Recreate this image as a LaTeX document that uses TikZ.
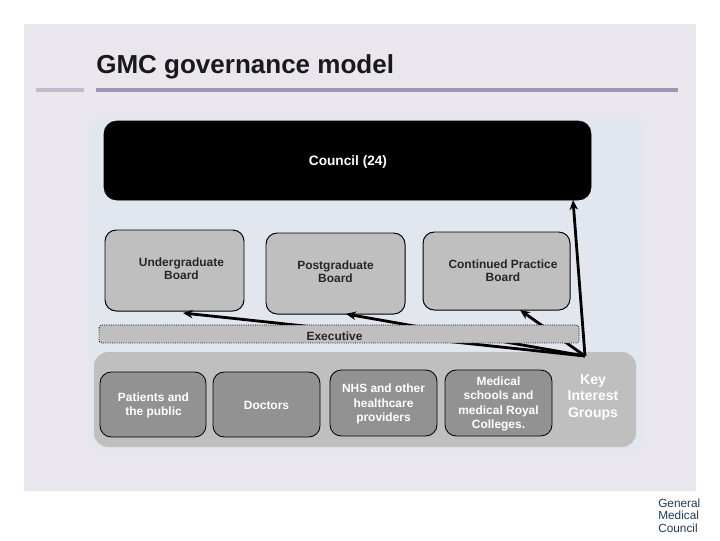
\documentclass[tikz,border=0pt]{standalone}
\usepackage{fontspec}
\setmainfont{Liberation Sans}
\usetikzlibrary{arrows.meta}
\definecolor{slidebg}{HTML}{E9E6EE}
\definecolor{panelbg}{HTML}{E2E7EF}
\definecolor{rulemain}{HTML}{A292B4}
\definecolor{ruleside}{HTML}{C2BACE}
\definecolor{boardgrey}{HTML}{BFBFBF}
\definecolor{groupgrey}{HTML}{929292}
\definecolor{logoblue}{HTML}{1F3A5F}
\tikzset{
  boardbox/.style={draw=black,line width=.7pt,fill=boardgrey,rounded corners=8pt},
  groupbox/.style={draw=black,line width=.6pt,fill=groupgrey,rounded corners=8pt},
  boardtext/.style={align=center,font=\fontsize{8.5}{9.6}\selectfont\bfseries,text=black!85},
  grouptext/.style={align=center,font=\fontsize{8.5}{10.3}\selectfont\bfseries,text=white},
  linkline/.style={line width=2pt,-{Stealth[length=7pt,width=6pt]}}
}
\begin{document}
\begin{tikzpicture}[x=.025cm,y=-.025cm]
\useasboundingbox (0,0) rectangle (720,540);
\fill[white] (0,0) rectangle (720,540);
\fill[slidebg] (24,24) rectangle (696,491);
\fill[panelbg,rounded corners=8pt] (88,118) rectangle (643,450);
% title
\node[anchor=base west,inner sep=0pt,font=\fontsize{18.5}{20}\selectfont\bfseries,text=black!90] (title) at (96,73) {GMC governance model};
\fill[ruleside] (36,88) rectangle (84,92);
\fill[rulemain] (96,88) rectangle (678,92);
% the boxes
\draw[fill=black,rounded corners=9pt] (104,121) rectangle (591,200);
\node[text=white,font=\fontsize{9.7}{10}\selectfont\bfseries] (council) at (348,161.5) {Council (24)};
\path[boardbox] (105,230) rectangle (244,311);
\path[boardbox] (266,233) rectangle (405,314);
\path[boardbox] (423,232) rectangle (570,310);
\node[boardtext] (under) at (181.5,268.5) {Undergraduate\\Board};
\node[boardtext] (post) at (335.5,271.5) {Postgraduate\\Board};
\node[boardtext] (cont) at (503,270.5) {Continued Practice\\Board};
% the key interest groups
\fill[boardgrey,rounded corners=10pt] (94,352) rectangle (636,447);
\path[groupbox] (100,372) rectangle (206,437);
\path[groupbox] (213,372) rectangle (320,437);
\path[groupbox] (330,370) rectangle (437,436);
\path[groupbox] (445,370) rectangle (552,436);
\node[grouptext] (patients) at (153.5,405.5) {Patients and\\the public};
\node[grouptext] (doctors) at (266.5,405) {Doctors};
\node[grouptext] (nhs) at (383.5,404) {NHS and other\\healthcare\\providers};
\node[grouptext] (medical) at (498.5,404) {Medical\\schools and\\medical Royal\\Colleges.};
\node[align=center,font=\fontsize{10}{12}\selectfont\bfseries,text=white] (key) at (593,397.5) {Key\\Interest\\Groups};
% the arrows
\coordinate (hub) at (585,356);
\coordinate (tocouncil) at (573,200);
\coordinate (tounder) at (183,313);
\coordinate (topost) at (346,314);
\coordinate (tocont) at (520,310);
\draw[linkline] (hub) -- (tocouncil);
\draw[linkline] (hub) -- (tounder);
\draw[linkline] (hub) -- (topost);
\draw[linkline] (hub) -- (tocont);
% executive sits on top of the lines
\draw[fill=boardgrey,densely dotted,line width=.6pt,rounded corners=2pt] (99,325) rectangle (579,343);
\node[boardtext] (exec) at (334.5,336) {Executive};
% logo
\node[anchor=north west,inner sep=0pt,align=left,text=logoblue,font=\fontsize{8.4}{8.6}\selectfont] (logo) at (658,499) {General\\Medical\\Council};
\end{tikzpicture}
\end{document}
